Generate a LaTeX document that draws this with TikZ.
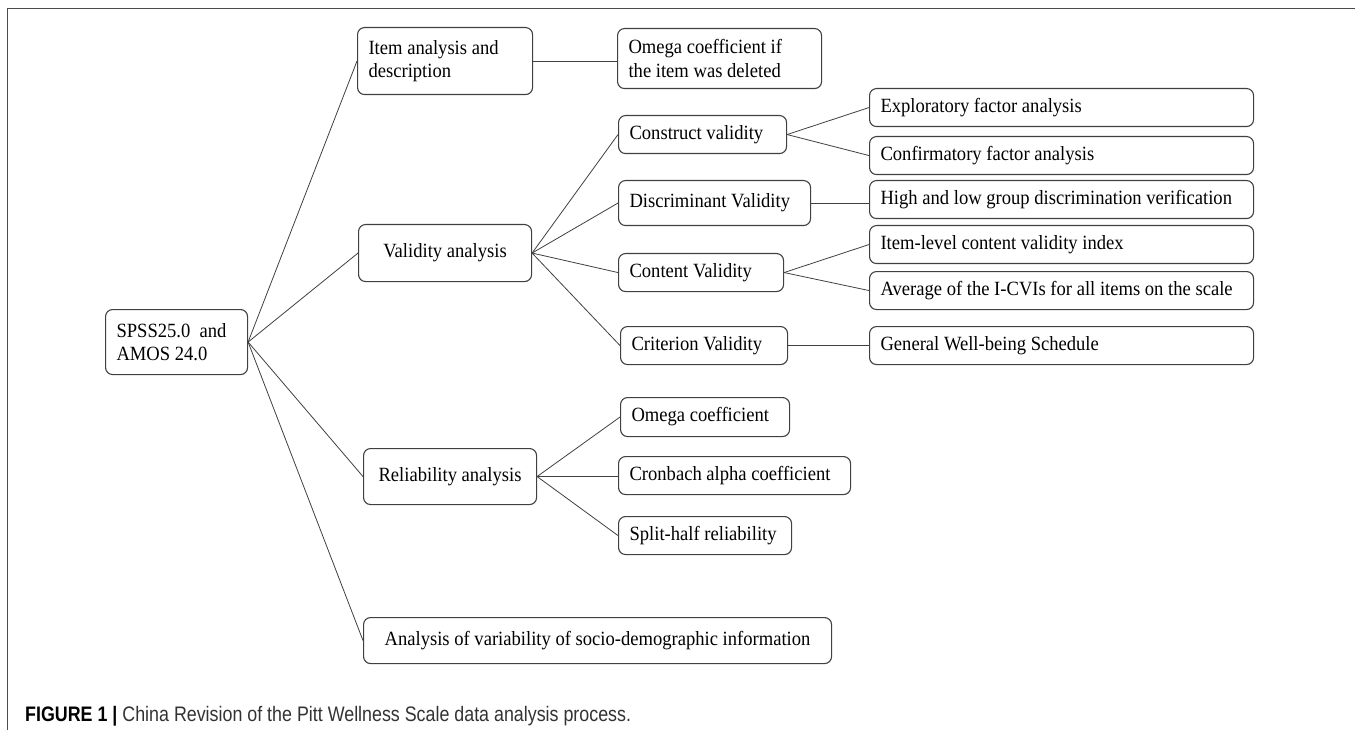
\documentclass[tikz,border=0pt]{standalone}
\usepackage{fontspec}
\setmainfont{Liberation Serif}[FakeStretch=0.92]
\setsansfont{Liberation Sans}
\usepackage{graphicx}

\begin{document}
\begin{tikzpicture}[x=1pt,y=1pt,
    kasten/.style={draw=black!75, line width=1.1pt, rounded corners=7pt,
        anchor=north west, inner xsep=11pt, inner ysep=0pt, align=flush left,
        text width=#1, font=\fontsize{20.2}{23.5}\selectfont},
    mittig/.style={kasten=#1, align=flush center},
    linie/.style={black!75, line width=0.8pt},
    rahmen/.style={black!70, line width=1.3pt},
]

\useasboundingbox (0,0) rectangle (1355,-730);

\draw[rahmen] (7.3,-730) -- (7.3,-8.3) -- (1355,-8.3);

\node[kasten=120pt, minimum height=65pt] (spss) at (105,-309) {SPSS25.0\ \ and\\AMOS 24.0};

\node[kasten=153pt, minimum height=67pt] (item) at (357,-27) {Item analysis and\\description};
\node[mittig=151pt, minimum height=57pt] (valid) at (358,-224) {Validity analysis};
\node[mittig=151pt, minimum height=56pt] (relia) at (363,-448) {Reliability analysis};
\node[mittig=446pt, minimum height=46pt] (socio) at (363,-617) {Analysis of variability of socio-demographic information};

\node[kasten=182pt, minimum height=60pt] (omegadel) at (617,-28) {Omega coefficient if\\the item was deleted};
\node[kasten=146pt, minimum height=38pt] (construct) at (618,-115) {Construct validity};
\node[kasten=170pt, minimum height=45pt] (discrim) at (618,-180) {Discriminant Validity};
\node[kasten=143pt, minimum height=38pt] (content) at (618,-253) {Content Validity};
\node[kasten=145pt, minimum height=38pt] (criterion) at (620,-326) {Criterion Validity};
\node[kasten=147pt, minimum height=39pt] (omega) at (620,-397) {Omega coefficient};
\node[kasten=210pt, minimum height=38pt] (cronbach) at (618,-456) {Cronbach alpha coefficient};
\node[kasten=151pt, minimum height=38pt] (split) at (618,-516) {Split-half reliability};

\foreach \name/\top/\txt in {explor/88/Exploratory factor analysis,
    confirm/136/Confirmatory factor analysis,
    highlow/180/High and low group discrimination verification,
    itemlevel/225/Item-level content validity index,
    average/271/Average of the I-CVIs for all items on the scale,
    general/326/General Well-being Schedule}
  \node[kasten=362pt, minimum height=38pt] (\name) at (869,-\top) {\txt};

\foreach \kind in {item,valid,relia,socio}
  \draw[linie] (spss.east) -- (\kind.west);
\foreach \kind in {construct,discrim,content,criterion}
  \draw[linie] (valid.east) -- (\kind.west);

\draw[linie] (item.east) -- (item.east -| omegadel.west);
\draw[linie] (construct.east) -- (explor.west);
\draw[linie] (construct.east) -- (confirm.west);
\draw[linie] (discrim.east) -- (discrim.east -| highlow.west);
\draw[linie] (content.east) -- (itemlevel.west);
\draw[linie] (content.east) -- (average.west);
\draw[linie] (criterion.east) -- (criterion.east -| general.west);
\draw[linie] (relia.east) -- (omega.west);
\draw[linie] (relia.east) -- (relia.east -| cronbach.west);
\draw[linie] (relia.east) -- (split.west);

\node[anchor=base west, inner sep=0pt] (caption) at (25,-721)
  {\scalebox{0.85}[1]{\fontsize{21}{25}\sffamily\textbf{FIGURE 1 |} \color{black!80}China Revision of the Pitt Wellness Scale data analysis process.}};

\end{tikzpicture}
\end{document}
